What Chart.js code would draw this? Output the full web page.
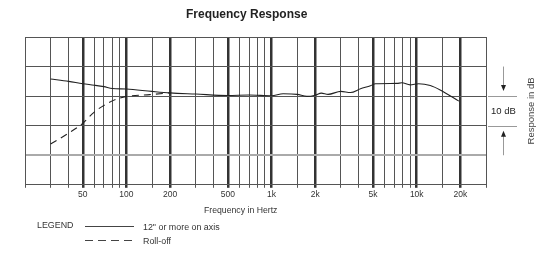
<!DOCTYPE html>
<html>
<head>
<meta charset="utf-8">
<script src="https://cdn.jsdelivr.net/npm/chart.js@4"></script>
<style>
  body { margin: 0; background: #fff; }
  #wrap { position: relative; width: 546px; height: 259px; font-family: "Liberation Sans", Arial, sans-serif; color: #333; }
  #chart { position: absolute; left: 0; top: 0; }
  .txt { position: absolute; white-space: nowrap; line-height: 1; }
  .legLine { position: absolute; height: 1px; }
</style>
</head>
<body>
<div id="wrap">
  <canvas id="chart" width="546" height="259"></canvas>
  <div class="txt" style="left:186px; top:8px; font-size:12px; font-weight:bold; color:#222;">Frequency Response</div>
  <div class="txt" style="left:204px; top:206px; font-size:8.7px;">Frequency in Hertz</div>
  <div class="txt" style="left:37px; top:221px; font-size:8.9px;">LEGEND</div>
  <div class="legLine" style="left:85px; top:226px; width:49px; background:#444;"></div>
  <div class="txt" style="left:143px; top:223px; font-size:8.9px;">12" or more on axis</div>
  <div class="legLine" style="left:85px; top:240px; width:47px; background:repeating-linear-gradient(to right, #444 0 8px, transparent 8px 13px);"></div>
  <div class="txt" style="left:143px; top:237px; font-size:8.9px;">Roll-off</div>
</div>
<script>
console.log("CHART LOADED");

// frequency axis: gridlines and which of them carry a label
let gridFreqs = [20, 30, 40, 50, 60, 70, 80, 90, 100, 150, 200, 300, 400, 500, 600, 700, 800, 900,
    1000, 1500, 2000, 3000, 4000, 5000, 6000, 7000, 8000, 9000, 10000, 15000, 20000, 30000];
let labelFreqs = [50, 100, 200, 500, 1000, 2000, 5000, 10000, 20000];
let tickLabels = ["50", "100", "200", "500", "1k", "2k", "5k", "10k", "20k"];

// 12" or more on axis
let onAxisFreq = [30, 40, 50, 60, 70, 80, 100, 150, 200, 300, 500, 700, 1000, 1200, 1500, 1750, 2000,
    2200, 2450, 3000, 3500, 4100, 4800, 5200, 7300, 7900, 9000, 10300, 12400, 14500, 19500];
let onAxisDb = [5.8, 5.0, 4.2, 3.7, 3.2, 2.6, 2.4, 1.6, 1.1, 0.7, 0.2, 0.4, 0.1, 0.8, 0.6, -0.1, 0.3,
    1.0, 0.6, 1.6, 1.2, 2.5, 3.5, 4.2, 4.3, 4.5, 3.8, 4.2, 3.6, 2.1, -1.7];

// roll-off
let rollFreq = [30, 40, 50, 60, 73, 87, 100, 145, 200];
let rollDb = [-16.2, -12.5, -9.2, -5.4, -2.6, -0.9, -0.1, 0.5, 1.1];

function toPoints(xs, ys){
    return xs.map((x, i) => ({ x: x, y: ys[i] }));
}

Chart.defaults.font.family = '"Liberation Sans", Arial, sans-serif';
Chart.defaults.color = "#333";

// "10 dB" marker and side title on the right of the plot
let sideNote = {
    id: "sideNote",
    afterDraw(chart) {
        let ctx = chart.ctx;
        let y = chart.scales.y;
        let y10 = y.getPixelForValue(10);
        let y0 = y.getPixelForValue(0);
        let yM10 = y.getPixelForValue(-10);
        let yM20 = y.getPixelForValue(-20);
        let ax = 503.5;

        ctx.save();
        ctx.strokeStyle = "#999";
        ctx.lineWidth = 1;
        ctx.beginPath();
        ctx.moveTo(488, Math.round(y0) + 0.5); ctx.lineTo(517, Math.round(y0) + 0.5);
        ctx.moveTo(488, Math.round(yM10) + 0.5); ctx.lineTo(517, Math.round(yM10) + 0.5);
        ctx.moveTo(ax, y10); ctx.lineTo(ax, y0 - 8);
        ctx.moveTo(ax, yM10 + 8); ctx.lineTo(ax, yM20);
        ctx.stroke();

        ctx.fillStyle = "#222";
        ctx.beginPath();
        ctx.moveTo(ax - 2.5, y0 - 11); ctx.lineTo(ax + 2.5, y0 - 11); ctx.lineTo(ax, y0 - 5);
        ctx.closePath();
        ctx.fill();
        ctx.beginPath();
        ctx.moveTo(ax - 2.5, yM10 + 11); ctx.lineTo(ax + 2.5, yM10 + 11); ctx.lineTo(ax, yM10 + 5);
        ctx.closePath();
        ctx.fill();

        ctx.fillStyle = "#222";
        ctx.font = '9.5px "Liberation Sans", Arial, sans-serif';
        ctx.textAlign = "center";
        ctx.textBaseline = "middle";
        ctx.fillText("10 dB", ax, (y0 + yM10) / 2);

        ctx.fillStyle = "#444";
        ctx.translate(531, (y0 + yM10) / 2);
        ctx.rotate(-Math.PI / 2);
        ctx.fillText("Response in dB", 0, 0);
        ctx.restore();
    }
};

new Chart(document.getElementById("chart"), {
    type: "line",
    data: {
        datasets: [{
            label: "12\" or more on axis",
            data: toPoints(onAxisFreq, onAxisDb),
            borderColor: "#222",
            borderWidth: 1.1,
            pointRadius: 0,
            cubicInterpolationMode: "monotone",
            fill: false
        }, {
            label: "Roll-off",
            data: toPoints(rollFreq, rollDb),
            borderColor: "#222",
            borderWidth: 1.1,
            borderDash: [7, 5],
            pointRadius: 0,
            cubicInterpolationMode: "monotone",
            fill: false
        }]
    },
    options: {
        responsive: false,
        animation: false,
        events: [],
        layout: { padding: { left: 25, right: 60, top: 37, bottom: 57 } },
        plugins: {
            legend: { display: false },
            title: { display: false },
            tooltip: { enabled: false }
        },
        scales: {
            x: {
                type: "logarithmic",
                min: 20,
                max: 30000,
                afterBuildTicks: (scale) => {
                    scale.ticks = gridFreqs.map(v => ({ value: v }));
                },
                ticks: {
                    autoSkip: false,
                    maxRotation: 0,
                    minRotation: 0,
                    padding: 2,
                    color: "#333",
                    font: { size: 8.5 },
                    callback: (value) => {
                        let i = labelFreqs.indexOf(value);
                        return i >= 0 ? tickLabels[i] : "";
                    }
                },
                grid: {
                    tickLength: 3,
                    color: (c) => (c.tick && labelFreqs.includes(c.tick.value)) ? "#333" : "#555",
                    lineWidth: (c) => (c.tick && labelFreqs.includes(c.tick.value)) ? 2.5 : 1
                },
                border: { display: true, color: "#555", width: 1 }
            },
            y: {
                min: -30,
                max: 20,
                ticks: { display: false, stepSize: 10 },
                grid: {
                    drawTicks: false,
                    color: (c) => (c.tick && c.tick.value === -20) ? "#aaa" : "#555",
                    lineWidth: (c) => (c.tick && c.tick.value === -20) ? 2 : 1
                },
                border: { display: true, color: "#555", width: 1 }
            }
        }
    },
    plugins: [sideNote]
});
</script>
</body>
</html>
